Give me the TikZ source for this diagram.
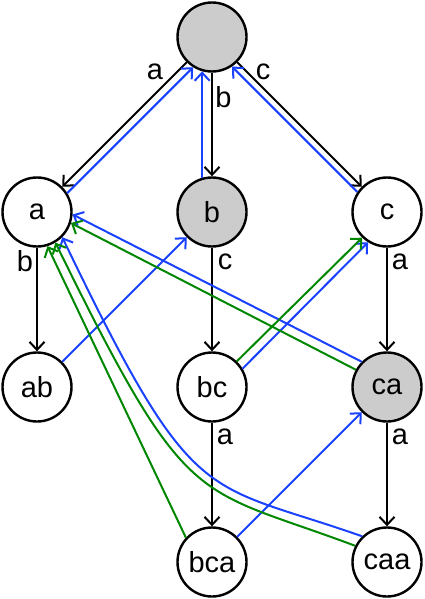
\documentclass[tikz,border=0pt]{standalone}
\usepackage{fontspec}
\setmainfont{Liberation Sans}
\usetikzlibrary{arrows.meta}
\definecolor{lblue}{RGB}{25,65,255}
\definecolor{lgreen}{RGB}{0,135,0}
\definecolor{lgray}{RGB}{204,204,204}
\begin{document}
\begin{tikzpicture}[x=1pt,y=-1pt,
  st/.style={circle,draw,line width=2.4pt,minimum size=69pt,inner sep=0pt,font=\fontsize{29}{31}\selectfont},
  hl/.style={st,fill=lgray},
  lbl/.style={font=\fontsize{29}{31}\selectfont,inner sep=0pt},
  tr/.style={line width=2pt,-{Straight Barb[length=8pt,width=15pt]}},
  sl/.style={tr,draw=lblue},
  gl/.style={tr,draw=lgreen}]
\useasboundingbox (0,0) rectangle (424,599);
% nodes
\node[hl] (root) at (212,37) {};
\node[st] (a) at (37,212) {a};
\node[hl] (b) at (212,212) {b};
\node[st] (c) at (387,212) {c};
\node[st] (ab) at (37,387) {ab};
\node[st] (bc) at (212,387) {bc};
\node[hl] (ca) at (387,387) {ca};
\node[st] (bca) at (212,562) {bca};
\node[st] (caa) at (387,562) {caa};
% transitions
\draw[tr] (root) -- (a);
\draw[tr] (root) -- (b);
\draw[tr] (root) -- (c);
\draw[tr] (a) -- (ab);
\draw[tr] (b) -- (bc);
\draw[tr] (c) -- (ca);
\draw[tr] (bc) -- (bca);
\draw[tr] (ca) -- (caa);
% labels
\node[lbl] (l1) at (155,72) {a};
\node[lbl] (l2) at (223.5,97) {b};
\node[lbl] (l3) at (263,72) {c};
\node[lbl] (l4) at (25,261) {b};
\node[lbl] (l5) at (225,262) {c};
\node[lbl] (l6) at (400,262) {a};
\node[lbl] (l7) at (225,437) {a};
\node[lbl] (l8) at (400,437) {a};
% blue links
\draw[sl] (a.32) -- (root.238);
\draw[sl] (b.106) -- (root.254);
\draw[sl] (c.146) -- (root.304);
\draw[sl] (ab.45) -- (b.225);
\draw[sl] (bc.31) -- (c.238);
\draw[sl] (ca.135) -- (a.-4);
\draw[sl] (bca.45) -- (ca.225);
\draw[sl] (caa.134) .. controls (202,480) and (195,513) .. (a.-45);
% green links
\draw[gl] (bc.46) -- (c.226);
\draw[gl] (ca.151) -- (a.-18);
\draw[gl] (bca.137) -- (a.-73);
\draw[gl] (caa.153) .. controls (193,485) and (189,515) .. (a.-59);
\end{tikzpicture}
\end{document}
